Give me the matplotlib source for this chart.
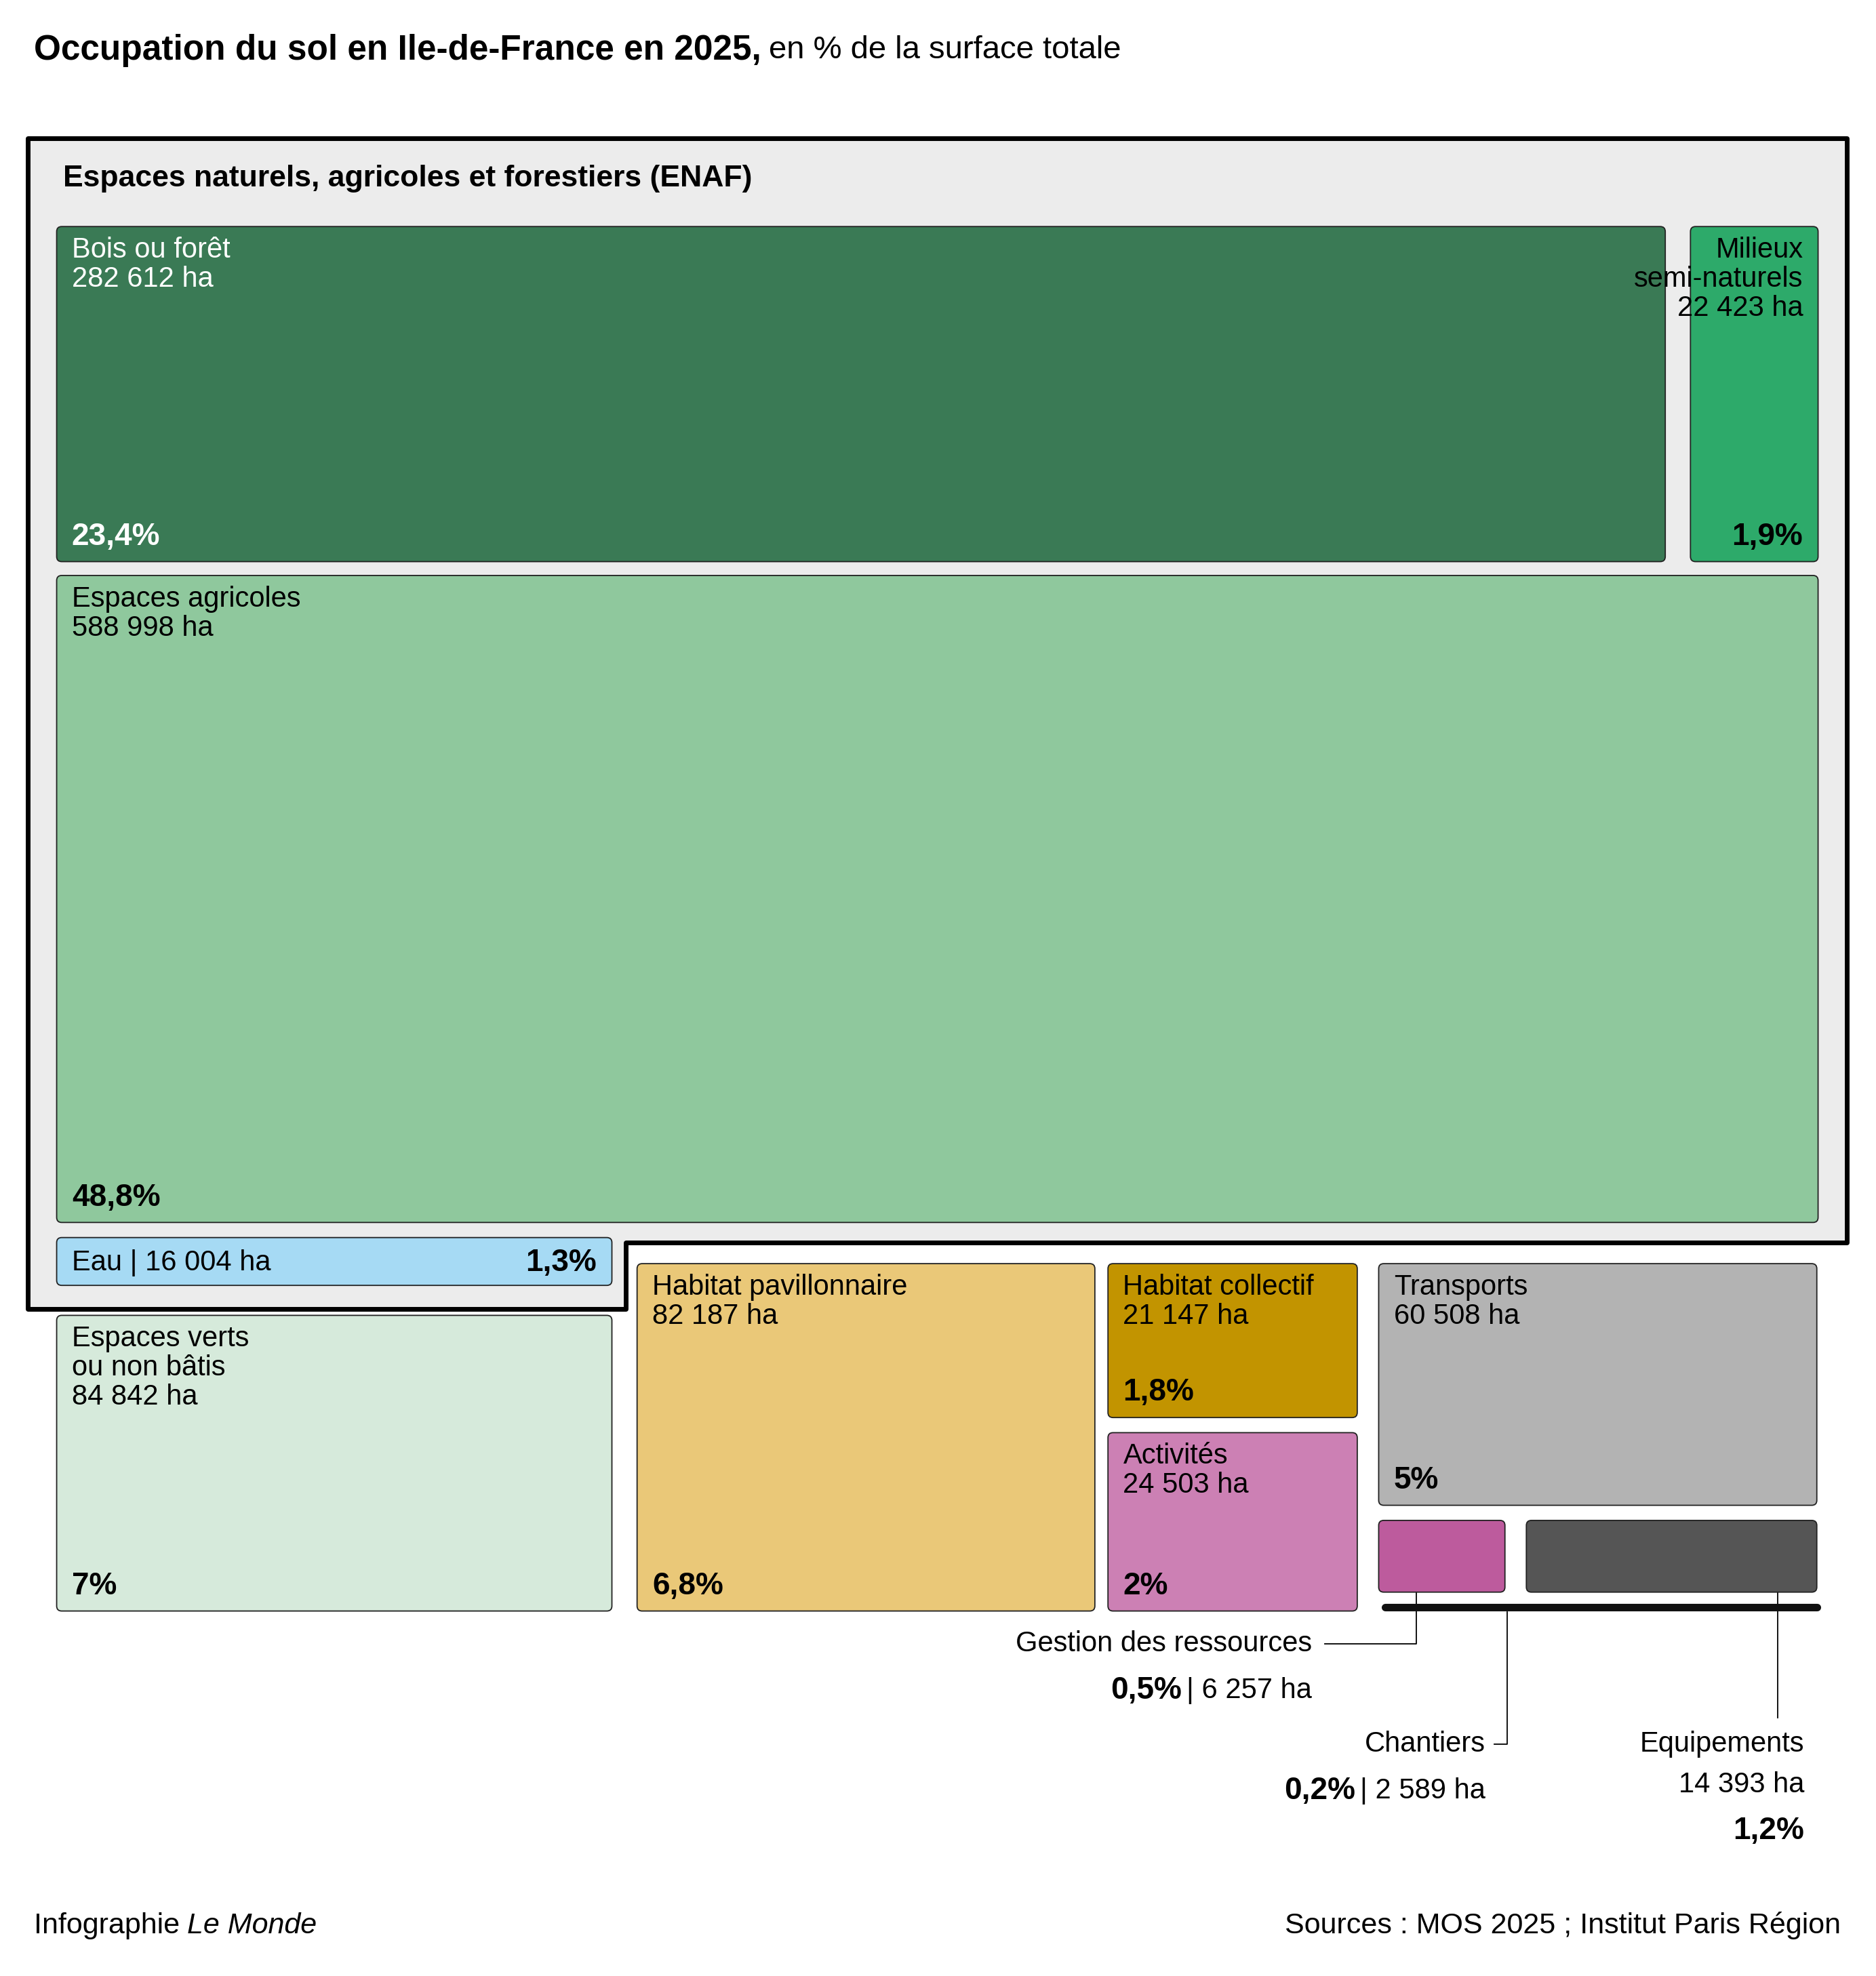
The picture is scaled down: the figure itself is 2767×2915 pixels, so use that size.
import matplotlib.pyplot as plt
from matplotlib.patches import FancyBboxPatch, Polygon

plt.rcParams['font.family'] = ['Liberation Sans', 'DejaVu Sans']

# data (ha and %)
noms = ["Bois ou forêt", "Milieux\nsemi-naturels", "Espaces agricoles", "Eau",
        "Espaces verts\nou non bâtis", "Habitat pavillonnaire", "Habitat collectif",
        "Activités", "Transports", "Gestion des ressources", "Chantiers", "Equipements"]
hectares = [282612, 22423, 588998, 16004, 84842, 82187, 21147, 24503, 60508, 6257, 2589, 14393]
pourcent = ["23,4", "1,9", "48,8", "1,3", "7", "6,8", "1,8", "2", "5", "0,5", "0,2", "1,2"]
couleurs = ["#3a7a55", "#2daa6a", "#8fc89d", "#a6daf4", "#d6eadb", "#eac878",
            "#c29400", "#cc80b4", "#b3b3b3", "#bd5b9d", "#111111", "#555555"]

def ha(v):
    return f"{v:,}".replace(",", " ")

k = 1.221  # px² per hectare (display units)
fig = plt.figure(figsize=(27.67, 29.15), dpi=100)
ax = fig.add_axes([0, 0, 1, 1])
ax.set_xlim(0, 1490)
ax.set_ylim(1570, 0)
ax.axis('off')
renderer = fig.canvas.get_renderer()
inv = ax.transData.inverted()

def left_of(t):
    bb = t.get_window_extent(renderer)
    return inv.transform((bb.x0, bb.y0))[0]

def right_of(t):
    bb = t.get_window_extent(renderer)
    return inv.transform((bb.x1, bb.y0))[0]

FS = 30
def box(x, y, w, h, c):
    ax.add_patch(FancyBboxPatch((x, y), w, h, boxstyle="round,pad=0,rounding_size=4",
                                fc=c, ec="#222222", lw=1.3, zorder=3))

# ENAF background
enaf = Polygon([(22, 110), (1467, 110), (1467, 987), (497, 987), (497, 1040), (22, 1040)],
               closed=True, fc="#ececec", ec="black", lw=5, joinstyle='round', zorder=1)
ax.add_patch(enaf)
ax.text(50, 142, "Espaces naturels, agricoles et forestiers (ENAF)", fontsize=FS + 2,
        fontweight='bold', va='center', zorder=5)

def lab(x, y, name, v, pct, h, white=False, right=False, w=0):
    col = "white" if white else "black"
    tx = x + w - 12 if right else x + 12
    ha_ = 'right' if right else 'left'
    ax.text(tx, y + 8, f"{name}\n{ha(v)} ha", fontsize=FS, color=col, va='top', ha=ha_,
            linespacing=1.1, zorder=5)
    ax.text(tx, y + h - 8, f"{pct}%", fontsize=FS + 3, fontweight='bold', color=col,
            va='bottom', ha=ha_, zorder=5)

# top row: bois + milieux
x0, W, top, g = 45, 1399, 180, 20
h1 = k * (hectares[0] + hectares[1]) / W
wb = (W - g) * hectares[0] / (hectares[0] + hectares[1])
box(x0, top, wb, h1, couleurs[0])
lab(x0, top, noms[0], hectares[0], pourcent[0], h1, white=True)
box(x0 + wb + g, top, W - wb - g, h1, couleurs[1])
lab(x0 + wb + g, top, noms[1], hectares[1], pourcent[1], h1, right=True, w=W - wb - g)
# agricole
y2 = top + h1 + 11
h2 = k * hectares[2] / W
box(x0, y2, W, h2, couleurs[2])
lab(x0, y2, noms[2], hectares[2], pourcent[2], h2)
# eau
y3 = y2 + h2 + 12
box(x0, y3, 441, 38, couleurs[3])
ax.text(x0 + 12, y3 + 20, f"{noms[3]} | {ha(hectares[3])} ha", fontsize=FS, va='center', zorder=5)
ax.text(x0 + 429, y3 + 20, f"{pourcent[3]}%", fontsize=FS + 3, fontweight='bold',
        va='center', ha='right', zorder=5)

# bottom part
bot = 1280
hv = k * hectares[4] / 441
box(45, bot - hv, 441, hv, couleurs[4])
lab(45, bot - hv, noms[4], hectares[4], pourcent[4], hv)
ytop = 1004
H = bot - ytop
wp = k * hectares[5] / H
box(506, ytop, wp, H, couleurs[5])
lab(506, ytop, noms[5], hectares[5], pourcent[5], H)
x3, w3 = 880, 198
hc = (H - 12) * hectares[6] / (hectares[6] + hectares[7])
box(x3, ytop, w3, hc, couleurs[6])
lab(x3, ytop, noms[6], hectares[6], pourcent[6], hc)
box(x3, ytop + hc + 12, w3, H - hc - 12, couleurs[7])
lab(x3, ytop + hc + 12, noms[7], hectares[7], pourcent[7], H - hc - 12)
x4, w4 = 1095, 348
ht = 192
box(x4, ytop, w4, ht, couleurs[8])
lab(x4, ytop, noms[8], hectares[8], pourcent[8], ht)
ys = ytop + ht + 12
hs = 57
wg = (w4 - 17) * hectares[9] / (hectares[9] + hectares[11])
box(x4, ys, wg, hs, couleurs[9])
box(x4 + wg + 17, ys, w4 - wg - 17, hs, couleurs[11])
ax.plot([1100, 1443], [1277, 1277], color=couleurs[10], lw=8, solid_capstyle='round', zorder=4)

# callouts
def pct_line(xr, y, v, pct):
    t = ax.text(xr, y, f"| {ha(v)} ha", fontsize=FS, ha='right', va='center')
    ax.text(left_of(t) - 4, y, f"{pct}%", fontsize=FS + 3, fontweight='bold', ha='right', va='center')

cg = x4 + 30
ax.plot([cg, cg, 1052], [ys + hs, 1306, 1306], color="black", lw=1.3)
ax.text(1042, 1306, noms[9], fontsize=FS, ha='right', va='center')
pct_line(1042, 1343, hectares[9], pourcent[9])
ax.plot([1197, 1197, 1187], [1281, 1386, 1386], color="black", lw=1.3)
ax.text(1180, 1386, noms[10], fontsize=FS, ha='right', va='center')
pct_line(1180, 1423, hectares[10], pourcent[10])
ax.plot([1412, 1412], [1255, 1365], color="black", lw=1.3)
ax.text(1433, 1386, noms[11], fontsize=FS, ha='right', va='center')
ax.text(1433, 1418, f"{ha(hectares[11])} ha", fontsize=FS, ha='right', va='center')
ax.text(1433, 1455, f"{pourcent[11]}%", fontsize=FS + 3, fontweight='bold', ha='right', va='center')

# title and footer
t = ax.text(27, 40, "Occupation du sol en Ile-de-France en 2025,", fontsize=37, fontweight='bold',
            va='center')
ax.text(right_of(t) + 6, 40, "en % de la surface totale", fontsize=34, va='center')
t = ax.text(27, 1530, "Infographie", fontsize=31, va='center')
ax.text(right_of(t) + 6, 1530, "Le Monde", fontsize=31, style='italic', va='center')
ax.text(1462, 1530, "Sources : MOS 2025 ; Institut Paris Région", fontsize=31,
        va='center', ha='right')

fig.savefig("out.png", dpi=100, facecolor="white")
